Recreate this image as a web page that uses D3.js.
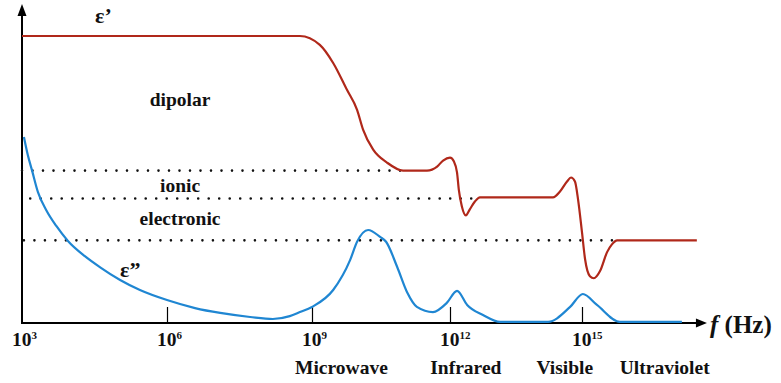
<!DOCTYPE html>
<html>
<head>
<meta charset="utf-8">
<script src="https://cdn.jsdelivr.net/npm/d3@7"></script>
<style>
  html, body { margin: 0; padding: 0; background: #fff; }
  svg { display: block; }
</style>
</head>
<body>
<svg id="chart" width="781" height="383" font-family="Liberation Serif, DejaVu Serif, serif" font-weight="bold"></svg>
<script>
// Frequency axis: decade exponents with tick labels 10^n
const tickExponents = [3, 6, 9, 12, 15];
const bandLabels = ["Microwave", "Infrared", "Visible", "Ultraviolet"];
const bandCenters = [9.64, 12.36, 14.61, 16.88];

// Real part ε' (log10 f, relative permittivity)
const epsRealExp = [3, 8.75, 9.17, 9.46, 9.76, 9.98, 10.11, 10.33, 10.63, 10.98, 11.5, 11.72, 11.85, 12.0, 12.09, 12.16, 12.2, 12.27, 12.36, 12.45, 12.57, 12.68, 14.34, 14.5, 14.66, 14.75, 14.84, 14.91, 15.0, 15.07, 15.18, 15.27, 15.41, 15.57, 15.68, 15.8, 17.61];
const epsRealVal = [100, 100, 96.9, 90.6, 81.25, 74.3, 67.4, 60.4, 55.9, 53.1, 53.1, 54.5, 56.6, 57.6, 56.25, 52.4, 46.5, 40.6, 37.5, 39.6, 42.4, 43.75, 43.75, 45.8, 49.3, 50.7, 49.3, 43.1, 31.6, 22.2, 16.3, 15.6, 18.1, 24.7, 27.4, 28.8, 28.8];

// Imaginary part ε'' (log10 f, loss)
const epsImagExp = [3.04, 3.12, 3.21, 3.33, 3.5, 3.71, 3.95, 4.3, 4.61, 5.03, 5.44, 6.0, 6.58, 7.1, 7.72, 8.19, 8.54, 8.75, 9.0, 9.46, 9.83, 9.98, 10.22, 10.48, 10.61, 10.85, 11.07, 11.28, 11.63, 11.93, 12.16, 12.39, 12.75, 13.14, 14.23, 14.73, 15.02, 15.34, 15.86, 17.27];
const epsImagVal = [64.8, 58.5, 53.0, 45.6, 39.4, 33.8, 28.6, 23.3, 19.5, 15.0, 11.5, 8.0, 5.2, 3.5, 2.1, 1.4, 2.4, 3.8, 5.6, 11.5, 22.0, 28.3, 32.4, 30.0, 28.3, 19.6, 10.6, 5.6, 3.8, 7.0, 11.2, 6.3, 2.8, 0.4, 0.4, 5.6, 10.1, 6.3, 0.4, 0.4];

// Static permittivity levels left by each polarisation mechanism
const levelNames = ["dipolar", "ionic", "electronic"];
const levelValues = [53.1, 43.4, 28.8];
const levelStart = [3, 3.17, 3.04];
const levelEnd = [10.98, 12.68, 15.8];
const levelLabelExp = [6.27, 6.27, 6.27];
const levelLabelVal = [75.7, 45.5, 34.0];

const serif = "'Liberation Serif', 'DejaVu Serif', serif";
const svg = d3.select("#chart");

const x = d3.scaleLinear()
  .domain(tickExponents)
  .range([22, 167, 312, 450, 582]);
const y = d3.scaleLinear().domain([0, 100]).range([323, 36]);

const axisY = y(0);
const xEnd = x(17.84);
const yTop = 4;

// Axes with arrowheads
svg.append("line")
  .attr("x1", x(3)).attr("x2", xEnd - 6)
  .attr("y1", axisY).attr("y2", axisY)
  .attr("stroke", "#000").attr("stroke-width", 2);
svg.append("path")
  .attr("d", `M${xEnd},${axisY} L${xEnd - 11},${axisY - 4.5} L${xEnd - 11},${axisY + 4.5} Z`)
  .attr("fill", "#000");
svg.append("line")
  .attr("x1", x(3)).attr("x2", x(3))
  .attr("y1", axisY + 1).attr("y2", yTop + 6)
  .attr("stroke", "#000").attr("stroke-width", 2);
svg.append("path")
  .attr("d", `M${x(3)},${yTop} L${x(3) - 4.5},${yTop + 12} L${x(3) + 4.5},${yTop + 12} Z`)
  .attr("fill", "#000");

// Inward tick marks
const xAxis = d3.axisBottom(x)
  .tickValues(tickExponents.slice(1))
  .tickSize(-16)
  .tickFormat("");
const gAxis = svg.append("g")
  .attr("transform", `translate(0,${axisY})`)
  .call(xAxis);
gAxis.select(".domain").remove();
gAxis.selectAll(".tick line").attr("stroke", "#000").attr("stroke-width", 1.2);

// Tick labels 10^n
const tickText = svg.append("g").selectAll("text")
  .data(tickExponents)
  .join("text")
  .attr("x", d => x(d) - 10)
  .attr("y", 346)
  .attr("font-family", serif)
  .attr("font-weight", "bold")
  .attr("font-size", 19.5)
  .attr("fill", "#111")
  .text("10");
tickText.append("tspan")
  .attr("dy", -7)
  .attr("font-size", 11)
  .text(d => d);

// Spectral region names
svg.append("g").selectAll("text")
  .data(bandLabels)
  .join("text")
  .attr("x", (d, i) => x(bandCenters[i]))
  .attr("y", 374)
  .attr("text-anchor", "middle")
  .attr("font-family", serif)
  .attr("font-weight", "bold")
  .attr("font-size", 19.5)
  .attr("fill", "#111")
  .text(d => d);

// Frequency axis title
const fTitle = svg.append("text")
  .attr("x", 710).attr("y", 333)
  .attr("font-family", serif)
  .attr("font-weight", "bold")
  .attr("font-size", 25)
  .attr("fill", "#111");
fTitle.append("tspan").attr("font-style", "italic").text("f");
fTitle.append("tspan").text(" (Hz)");

// Dotted level lines
svg.append("g").selectAll("line")
  .data(levelValues)
  .join("line")
  .attr("x1", (d, i) => x(levelStart[i]))
  .attr("x2", (d, i) => x(levelEnd[i]))
  .attr("y1", d => y(d))
  .attr("y2", d => y(d))
  .attr("stroke", "#111")
  .attr("stroke-width", 2.6)
  .attr("stroke-linecap", "round")
  .attr("stroke-dasharray", "0 10.5");

// Mechanism labels
svg.append("g").selectAll("text")
  .data(levelNames)
  .join("text")
  .attr("x", (d, i) => x(levelLabelExp[i]))
  .attr("y", (d, i) => y(levelLabelVal[i]))
  .attr("text-anchor", "middle")
  .attr("font-family", serif)
  .attr("font-weight", "bold")
  .attr("font-size", 19.5)
  .attr("fill", "#111")
  .text(d => d);

// Curves
const line = d3.line()
  .x(d => x(d[0]))
  .y(d => y(d[1]))
  .curve(d3.curveMonotoneX);

svg.append("path")
  .datum(d3.zip(epsRealExp, epsRealVal))
  .attr("d", line)
  .attr("fill", "none")
  .attr("stroke", "#b0281a")
  .attr("stroke-width", 2.2);

svg.append("path")
  .datum(d3.zip(epsImagExp, epsImagVal))
  .attr("d", line)
  .attr("fill", "none")
  .attr("stroke", "#1f86d2")
  .attr("stroke-width", 2.2);

// Curve names
svg.append("text")
  .attr("x", 95).attr("y", 23)
  .attr("font-family", serif)
  .attr("font-weight", "bold")
  .attr("font-size", 22)
  .attr("fill", "#111")
  .text("ε’");
svg.append("text")
  .attr("x", 120).attr("y", 277)
  .attr("font-family", serif)
  .attr("font-weight", "bold")
  .attr("font-size", 22)
  .attr("fill", "#111")
  .text("ε”");
</script>
</body>
</html>
